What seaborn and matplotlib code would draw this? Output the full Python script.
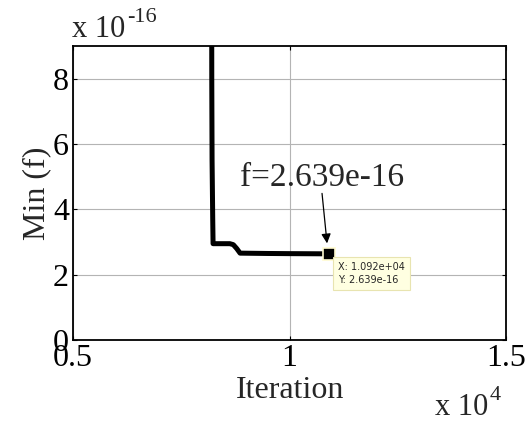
import matplotlib.pyplot as plt
import seaborn as sns
import pandas as pd
import numpy as np

plt.switch_backend('Agg')

# convergence curve (best objective value vs iteration)
iterations = [8200, 8203, 8210, 8225, 8233, 8620, 8700, 8780, 8857, 9500, 10000, 10920]
min_f = [12.0e-16, 8.0e-16, 5.5e-16, 3.7e-16, 2.95e-16, 2.95e-16, 2.92e-16, 2.80e-16,
         2.66e-16, 2.65e-16, 2.645e-16, 2.639e-16]

tip_x = 10920
tip_y = 2.639e-16

x_ticks = [0.5, 1, 1.5]
x_tick_labels = ['0.5', '1', '1.5']
y_ticks = [0, 2, 4, 6, 8]

sns.set_style("white")
plt.rcParams['font.family'] = ['Liberation Serif', 'DejaVu Serif']

df = pd.DataFrame({'iter': np.array(iterations) / 1e4, 'f': np.array(min_f) / 1e-16})

fig = plt.figure(figsize=(5.26, 4.21), dpi=100)
ax = fig.add_axes([0.139, 0.1924, 0.823, 0.698])

sns.lineplot(data=df, x='iter', y='f', ax=ax, sort=False, estimator=None,
             color='black', linewidth=3.6, zorder=3)

ax.set_xlim(0.5, 1.5)
ax.set_ylim(0, 9)
ax.set_xticks(x_ticks)
ax.set_xticklabels(x_tick_labels)
ax.set_yticks(y_ticks)
ax.set_yticklabels([str(t) for t in y_ticks])
ax.grid(True, color='#b4b4b4', linewidth=0.8)
ax.tick_params(direction='in', length=3, width=0.8, labelsize=23, pad=3,
               colors='black', top=True, right=True, bottom=True, left=True)
for s in ax.spines.values():
    s.set_visible(True)
    s.set_color('black')
    s.set_linewidth(1.3)

ax.set_xlabel('Iteration', fontsize=23, labelpad=2)
ax.set_ylabel('Min (f)', fontsize=23, labelpad=1)

# data tip
tx, ty = tip_x / 1e4, tip_y / 1e-16
ax.plot([tx], [ty], marker='s', markersize=8, color='black',
        markeredgecolor='#fffbd0', markeredgewidth=1.2, zorder=5)
ax.text(tx + 0.02, ty - 0.26, 'X: 1.092e+04\nY: 2.639e-16', fontsize=7,
        family='DejaVu Sans', va='top', ha='left', zorder=6, linespacing=1.35,
        bbox=dict(boxstyle='square,pad=0.5', facecolor='#ffffe1', edgecolor='#e8e4b0',
                  linewidth=0.8))

ax.text(0.8857, 4.73, 'f=2.639e-16', fontsize=24, ha='left', va='baseline')
ax.annotate('', xy=(1.0866, 2.96), xytext=(1.075, 4.49),
            arrowprops=dict(arrowstyle='-|>', color='black', linewidth=0.9,
                            mutation_scale=14, shrinkA=0, shrinkB=0))

# axis multipliers, MATLAB style
top_mult = fig.text(0.137, 0.912, 'x 10', fontsize=22, ha='left', va='baseline')
ax.annotate('-16', xy=(1, 1), xycoords=top_mult, xytext=(1, 5),
            textcoords='offset points', fontsize=16, ha='left', va='top')
bot_mult = fig.text(0.827, 0.0143, 'x 10', fontsize=22, ha='left', va='baseline')
ax.annotate('4', xy=(1, 1), xycoords=bot_mult, xytext=(1, 5),
            textcoords='offset points', fontsize=16, ha='left', va='top')

fig.savefig('out.png', dpi=100)
plt.close(fig)
